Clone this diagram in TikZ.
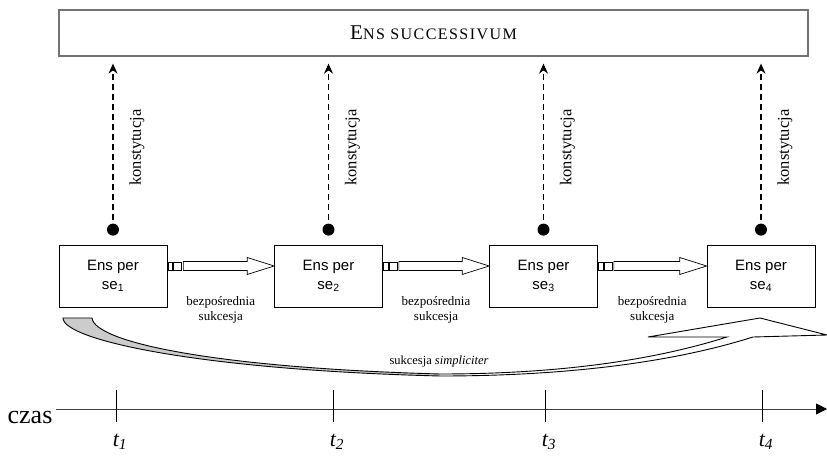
\documentclass[tikz,border=0pt]{standalone}
\usepackage{fontspec}
\setmainfont{Liberation Serif}
\newfontfamily\arialfont{Liberation Sans}
\usetikzlibrary{calc,arrows.meta}
\tikzset{
  ensbox/.style={draw,line width=0.7pt,minimum width=108pt,minimum height=62pt,
    align=center,inner sep=0pt,font=\arialfont\fontsize{15}{19}\selectfont},
  konst/.style={line width=1.1pt,dash pattern=on 6pt off 4pt,
    -{Stealth[length=10pt,width=9pt]},shorten >=7pt},
  konlab/.style={rotate=90,font=\fontsize{16.5}{16.5}\selectfont},
  sukc/.style={align=center,font=\fontsize{13}{15}\selectfont},
  blok/.style={line width=0.7pt,line join=miter},
}
\begin{document}
\begin{tikzpicture}[x=1pt,y=1pt]
  \useasboundingbox (0,0) rectangle (827,455);
  %ens successivum
  \node[draw=black!55,line width=1.3pt,minimum width=749pt,minimum height=46pt] (es) at (433.5,422)
    {{\fontsize{21}{21}\selectfont E}{\fontsize{16}{16}\selectfont\addfontfeature{LetterSpace=9}NS SUCCESSIVUM}};
  %ens per se + konstytucja
  \foreach \i/\x in {1/113,2/328.5,3/543.5,4/761}{
    \node[ensbox] (e\i) at (\x,179) {Ens per\\se\textsubscript{\i}};
    \fill (e\i.north) ++(0,15) coordinate (k\i) circle (6);
    \draw[konst] (k\i) -- (k\i |- es.south);
    \node[konlab] (kl\i) at ($(k\i)+(24,82)$) {konstytucja};
  }
  %bezposrednia sukcesja
  \foreach \a/\b in {e1/e2,e2/e3,e3/e4}{
    \draw[blok] ($(\a.east)+(0.5,6)$) rectangle ++(4.5,8);
    \draw[blok] ($(\a.east)+(6,6)$) rectangle ++(8,8);
    \draw[blok] ($(\a.east)+(16,5.5)$) -- ($(\b.west)+(-27,5.5)$) -- ($(\b.west)+(-27,1.5)$)
      -- ($(\b.west)+(0,10)$) -- ($(\b.west)+(-27,18.5)$) -- ($(\b.west)+(-27,14.5)$)
      -- ($(\a.east)+(16,14.5)$) -- cycle;
    \node[sukc] at ($(\a.east)!0.5!(\b.west)+(0,-34)$) {bezpośrednia\\sukcesja};
  }
  %sukcesja simpliciter
  \fill[gray!40] (63,137) -- (92,137) .. controls (95,112) and (220,87) .. (440,81)
    -- (440,79) .. controls (200,85) and (63,115) .. cycle;
  \draw[line width=0.9pt,line join=miter] (63,137) -- (92,137)
    .. controls (95,112) and (220,87) .. (440,81)
    .. controls (580,81) and (670,100) .. (727,118) -- (648,118) -- (760,137)
    -- (827,120) -- (753,118) .. controls (690,98) and (590,79) .. (440,79)
    .. controls (200,85) and (63,115) .. cycle;
  \node[font=\fontsize{12.5}{14}\selectfont] (ss) at (439,94) {sukcesja \textit{simpliciter}};
  %os czasu
  \node[font=\fontsize{26}{26}\selectfont,anchor=base] (czas) at (30,31) {czas};
  \coordinate (tend) at (827,46);
  \draw[black!75,line width=0.8pt,-{Triangle[length=11pt,width=11pt,color=black]}] (czas.east |- tend) -- (tend);
  \foreach \i/\x in {1/116,2/333,3/545,4/762}{
    \draw[line width=1pt] (\x,65) -- (\x,33);
    \node[font=\fontsize{22}{22}\selectfont\itshape,anchor=base] (t\i) at (\x+4,9) {t\textsubscript{\i}};
  }
\end{tikzpicture}
\end{document}
